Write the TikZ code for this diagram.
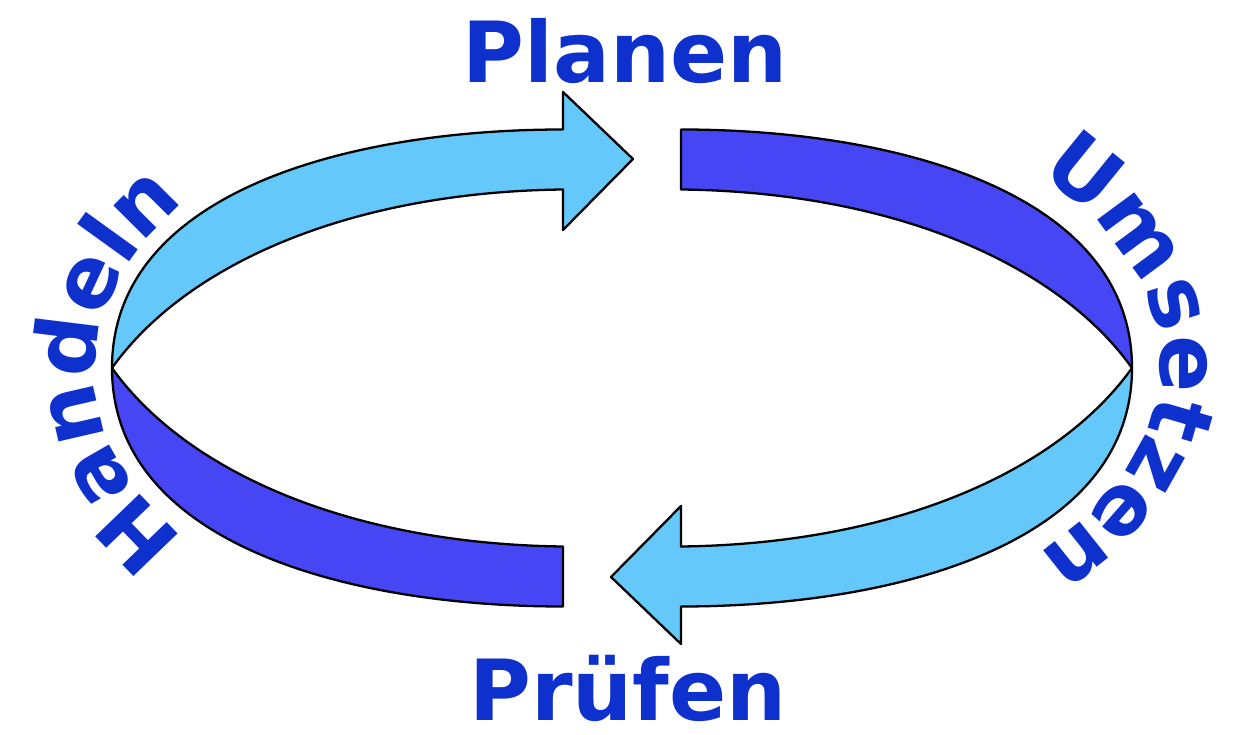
\documentclass[tikz,border=0pt]{standalone}
\usepackage{fontspec}
\setsansfont{DejaVu Sans}
\usetikzlibrary{decorations.text}
\definecolor{txtblue}{RGB}{14,48,204}
\definecolor{lightcol}{RGB}{100,200,250}
\definecolor{darkcol}{RGB}{70,70,245}
\newcommand{\cyclefont}{\sffamily\bfseries\fontsize{48}{50}\selectfont}

\begin{document}
\begin{tikzpicture}[
  band/.style={draw=black, line width=1.3pt, line join=round},
  lightseg/.style={band, fill=lightcol},
  darkseg/.style={band, fill=darkcol},
  lbl/.style={font=\cyclefont, text=txtblue, inner sep=0pt, text depth=0pt}]
\useasboundingbox (-12.44,-7.34) rectangle (12.36,7.36);
% crossing points of the band
\coordinate (L) at (-10.2,0);
\coordinate (R) at (10.2,0);
% Handeln -> Planen (light, with head)
\draw[lightseg] (L) .. controls (-10.2,3.5) and (-5.5,4.77) .. (-1.18,4.77)
  -- (-1.18,5.52) -- (0.22,4.18) -- (-1.18,2.76) -- (-1.18,3.57)
  .. controls (-5.4,3.52) and (-8.7,2.1) .. (L) -- cycle;
% Planen -> Umsetzen (dark)
\draw[darkseg] (R) .. controls (10.2,3.5) and (5.5,4.77) .. (1.18,4.77)
  -- (1.18,3.57) .. controls (5.4,3.52) and (8.7,2.1) .. (R) -- cycle;
% Umsetzen -> Pruefen (light, with head)
\draw[lightseg] (R) .. controls (10.2,-3.5) and (5.5,-4.77) .. (1.18,-4.77)
  -- (1.18,-5.52) -- (-0.22,-4.18) -- (1.18,-2.76) -- (1.18,-3.57)
  .. controls (5.4,-3.52) and (8.7,-2.1) .. (R) -- cycle;
% Pruefen -> Handeln (dark)
\draw[darkseg] (L) .. controls (-10.2,-3.5) and (-5.5,-4.77) .. (-1.18,-4.77)
  -- (-1.18,-3.57) .. controls (-5.4,-3.52) and (-8.7,-2.1) .. (L) -- cycle;
% labels
\node[lbl, anchor=base] (plan) at (0.06,5.7) {Planen};
\node[lbl, anchor=base] (pruef) at (0.12,-7.04) {Prüfen};
\path[decorate, decoration={text along path, text align=center,
    text={|\cyclefont\color{txtblue}|Umsetzen}}]
  (1.87,5.99) arc[start angle=80, end angle=-80, x radius=10.76, y radius=6.0];
\path[decorate, decoration={text along path, text align=center,
    text={|\cyclefont\color{txtblue}|Handeln}}]
  (-1.83,-5.95) arc[start angle=260, end angle=100, x radius=10.55, y radius=6.0];
\end{tikzpicture}
\end{document}
